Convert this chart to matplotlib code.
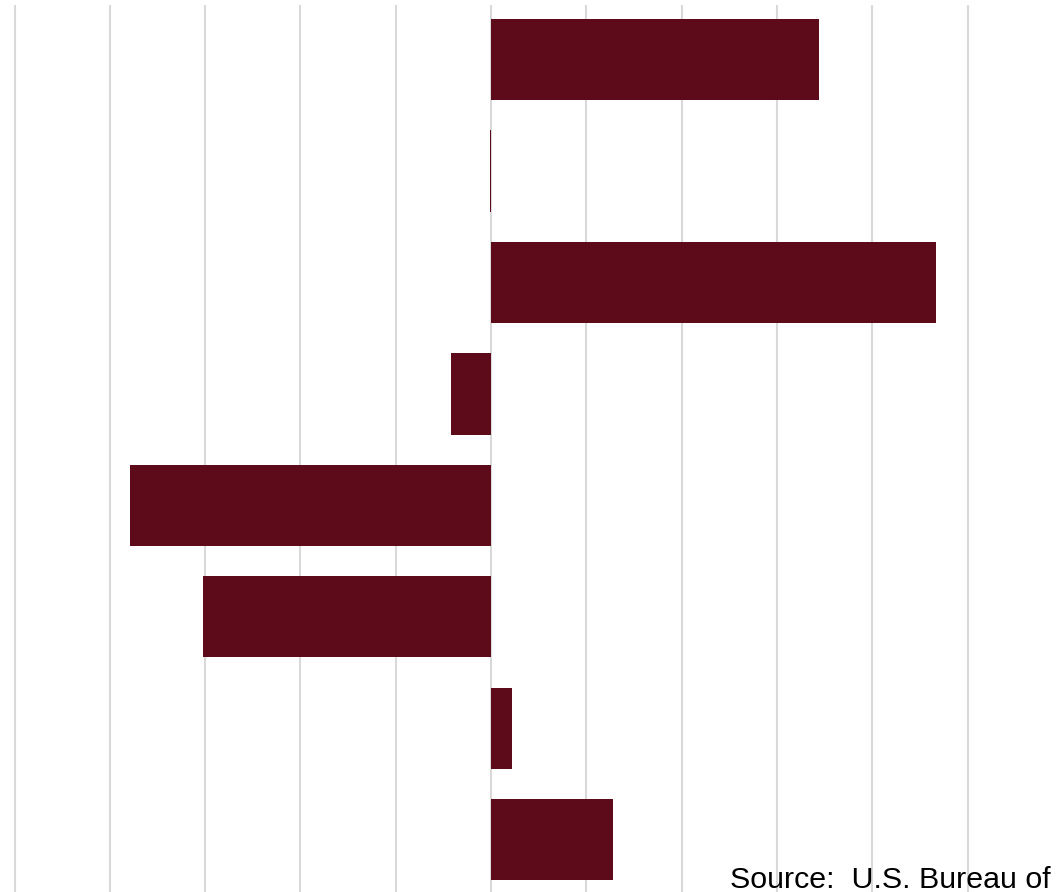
import matplotlib.pyplot as plt

categories = ["A", "B", "C", "D", "E", "F", "G", "H"]
values = [3.44, -0.01, 4.67, -0.42, -3.79, -3.02, 0.22, 1.28]
grid_ticks = [-5, -4, -3, -2, -1, 0, 1, 2, 3, 4, 5]

plt.rcParams['font.family'] = ['Liberation Sans', 'DejaVu Sans']

fig = plt.figure(figsize=(10.56, 8.92), dpi=100)
ax = fig.add_axes([0, 0, 1, 887 / 892])

pos = list(range(len(categories)))
ax.barh(pos, values, height=0.73, color='#5d0a1b')

ax.set_xlim(-491 / 95.3, (1056 - 491) / 95.3)
ax.set_ylim(7.47, -0.49)
ax.set_xticks(grid_ticks)
ax.set_yticks([])
ax.grid(axis='x', color='#d9d9d9', linewidth=1.5)
ax.set_axisbelow(True)
ax.tick_params(length=0, labelbottom=False)
for s in ax.spines.values():
    s.set_visible(False)

# source line runs off the right edge, as in the original
fig.text(730 / 1056, 4 / 892, "Source:  U.S. Bureau of Labor Statistics",
         fontsize=21.9, ha='left', va='baseline')

fig.savefig("out.png", dpi=100)
